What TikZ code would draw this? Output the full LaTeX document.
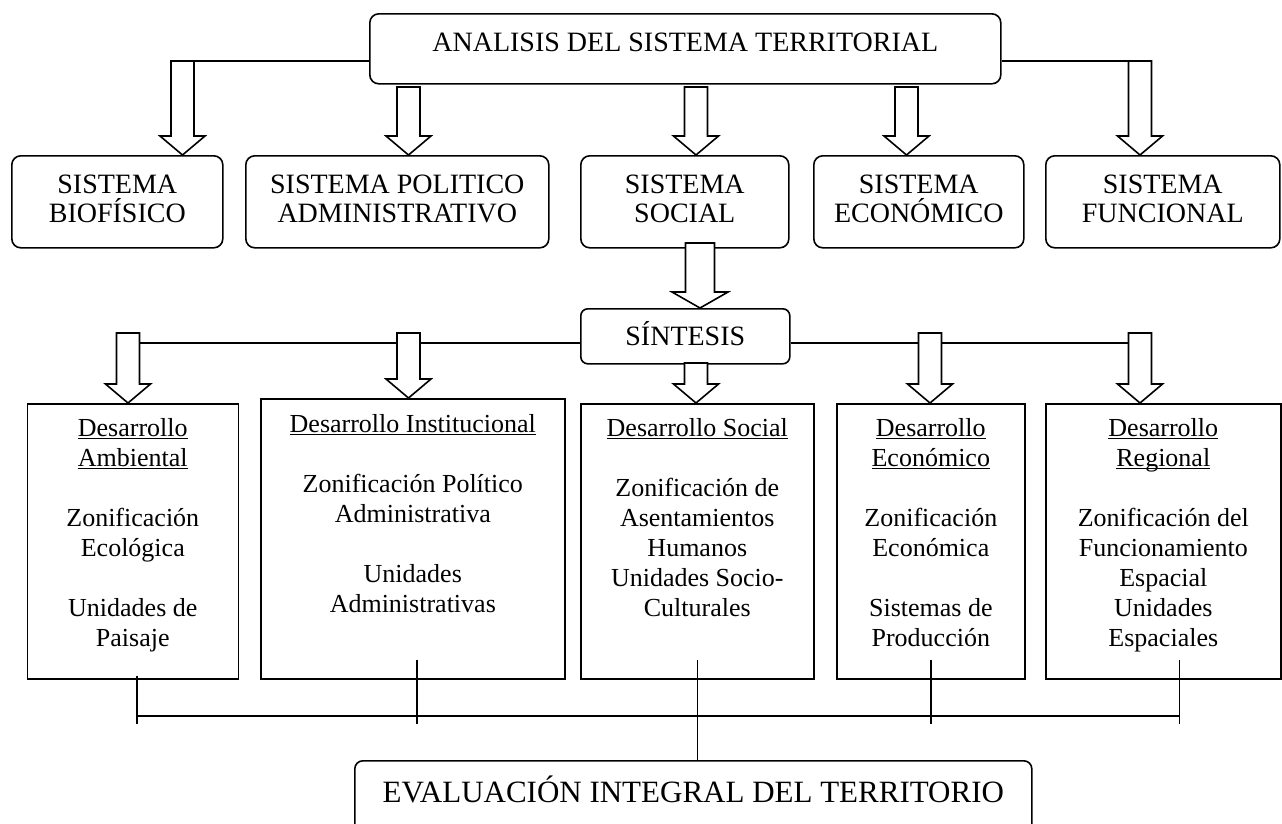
\documentclass[tikz,border=0pt]{standalone}
\usepackage{fontspec}
\setmainfont{Liberation Serif}
\usetikzlibrary{calc}

% underline at a fixed depth, like a word processor does
\newcommand{\ulin}[1]{\underline{\smash{#1}}}
% centred lines, hung from the first baseline
\newcommand{\rows}[1]{\begin{tabular}[t]{@{}c@{}}#1\end{tabular}}

\begin{document}
\begin{tikzpicture}[%
    x=1pt, y=-1pt,              % page units, y going down
    line width=1.6pt,           % all lines and borders
    shaftw/.store in=\shaftw,   % half width of an arrow shaft
    headw/.store in=\headw,     % half width of an arrow head
    headl/.store in=\headl,     % length of an arrow head
    shaftw=11.5pt, headw=22.5pt, headl=19pt,
    ]
% -------------------------------------------------
% Box styles
\tikzset{
  base/.style={draw, inner xsep=2pt, inner ysep=0pt, anchor=north west},
  caja/.style={base, rounded corners=9pt, font={\fontsize{28}{29}\selectfont}},
  sist/.style={caja, text height=38pt, text depth=54pt},
  area/.style={base, font={\fontsize{26}{30}\selectfont}, text height=33pt, text depth=242pt},
  % -------------------------------------------------
  % hollow block arrow, from its top to its tip
  blk/.style={draw, fill=white, to path={
      let \p1=(\tikztostart), \p2=(\tikztotarget) in
      (\x1-\shaftw,\y1) -- (\x1-\shaftw,\y2+\headl) -- (\x1-\headw,\y2+\headl)
      -- (\x1,\y2) -- (\x1+\headw,\y2+\headl) -- (\x1+\shaftw,\y2+\headl)
      -- (\x1+\shaftw,\y1) -- cycle}},
}
\useasboundingbox (0,0) rectangle (1282,823);
% -------------------------------------------------
% The boxes, top to bottom
\node [caja, minimum width=631pt, text height=38pt, text depth=32pt] (ana) at (369,13)
  {ANALISIS DEL SISTEMA TERRITORIAL};

\node [sist, minimum width=211pt] (bio) at (11,155)   {\rows{SISTEMA\\\smash{BIOFÍSICO}}};
\node [sist, minimum width=303pt] (pol) at (245,155)  {\rows{SISTEMA POLITICO\\ADMINISTRATIVO}};
\node [sist, minimum width=208pt] (soc) at (580,155)  {\rows{SISTEMA\\SOCIAL}};
\node [sist, minimum width=210pt] (eco) at (813,155)  {\rows{SISTEMA\\\smash{ECONÓMICO}}};
\node [sist, minimum width=234pt] (fun) at (1045,155) {\rows{SISTEMA\\FUNCIONAL}};

\node [caja, rounded corners=7pt, minimum width=209pt, text height=37pt, text depth=18pt]
  (sin) at (580,308) {SÍNTESIS};

\node [area, minimum width=211pt] (amb) at (26.5,403)
  {\rows{\ulin{Desarrollo}\\\ulin{Ambiental}\\[30pt]Zonificación\\Ecológica\\[30pt]Unidades de\\Paisaje}};
\node [area, minimum width=304pt, text height=34pt, text depth=246pt] (ins) at (260,398)
  {\rows{\ulin{Desarrollo Institucional}\\[30pt]Zonificación Político\\Administrativa\\[30pt]Unidades\\Administrativas}};
\node [area, minimum width=233pt] (dso) at (580,403)
  {\rows{\ulin{Desarrollo Social}\\[30pt]Zonificación de\\Asentamientos\\Humanos\\Unidades Socio-\\Culturales}};
\node [area, minimum width=188pt] (dec) at (836,403)
  {\rows{\ulin{Desarrollo}\\\ulin{Económico}\\[30pt]Zonificación\\Económica\\[30pt]Sistemas de\\Producción}};
\node [area, minimum width=235pt] (reg) at (1045,403)
  {\rows{\ulin{Desarrollo}\\\ulin{Regional}\\[30pt]Zonificación del\\Funcionamiento\\Espacial\\Unidades\\Espaciales}};

\node [caja, rounded corners=8pt, font={\fontsize{31}{35}\selectfont}, minimum width=677pt,
  text height=42pt, text depth=48pt] (eva) at (354,760) {EVALUACIÓN INTEGRAL DEL TERRITORIO};
% -------------------------------------------------
% Tops of the block arrows
\coordinate (a1) at (182.5,61);
\coordinate (a2) at (408.5,87);
\coordinate (a3) at (696,87);
\coordinate (a4) at (906.5,87);
\coordinate (a5) at (1140,61);
\coordinate (s0) at (700,243);
\coordinate (d1) at (128,333);
\coordinate (d2) at (408.5,333);
\coordinate (d3) at (696,363);
\coordinate (d4) at (930,333);
\coordinate (d5) at (1140,333);
% levels of the plain lines
\coordinate (lin) at (0,343);
\coordinate (bus) at (0,716);
% -------------------------------------------------
% Plain lines first, the arrows are filled over them
\draw (a1 -| ana.west) -- (a1);
\draw (a5 -| ana.east) -- (a5);
\draw (d1 |- lin) -- (lin -| sin.west);
\draw (lin -| sin.east) -- (d5 |- lin);
% -------------------------------------------------
\draw [blk] (a1) to (a1 |- bio.north);
\draw [blk] (a2) to (a2 |- pol.north);
\draw [blk] (a3) to (a3 |- soc.north);
\draw [blk] (a4) to (a4 |- eco.north);
\draw [blk] (a5) to (a5 |- fun.north);
\draw [blk, shaftw=14.5pt, headw=28pt, headl=16pt] (s0) to (s0 |- sin.north);
\draw [blk] (d1) to (d1 |- amb.north);
\draw [blk] (d2) to (d2 |- ins.north);
\draw [blk] (d3) to (d3 |- dso.north);
\draw [blk] (d4) to (d4 |- dec.north);
\draw [blk] (d5) to (d5 |- reg.north);
% -------------------------------------------------
% Joining the five areas into the evaluation
\draw ([xshift=4pt]amb.south |- bus) -- ([xshift=16pt]reg.south |- bus);
\draw ([xshift=4pt,yshift=4pt]amb.south) -- ++(0,-48pt);
\draw ([xshift=4pt,yshift=20pt]ins.south) -- ++(0,-64pt);
\draw ([yshift=20pt]dso.south) -- (dso.south |- eva.north);
\draw ([yshift=20pt]dec.south) -- ++(0,-64pt);
\draw ([xshift=16pt,yshift=20pt]reg.south) -- ++(0,-64pt);
\end{tikzpicture}
\end{document}
